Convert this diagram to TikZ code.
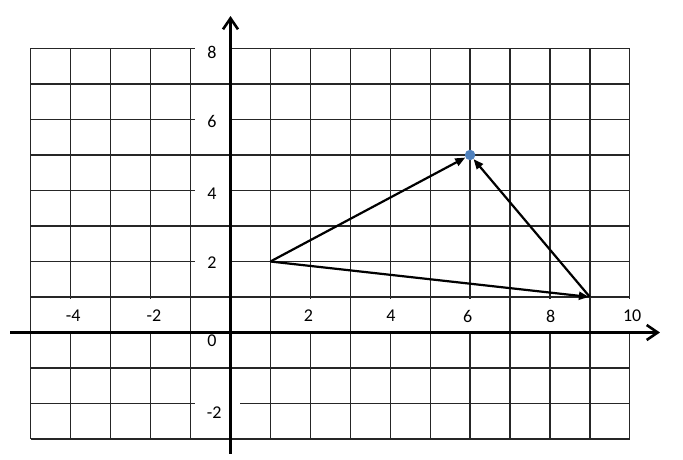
\documentclass[tikz,border=0pt]{standalone}
\usepackage{fontspec}
\setmainfont{Carlito}
\usetikzlibrary{arrows.meta}
\definecolor{dotblue}{RGB}{79,129,189}
\begin{document}
\begin{tikzpicture}[x=39.93pt,y=35.5pt,
  gridline/.style={line width=1.3pt, draw=black!85},
  axis/.style={line width=2.6pt, -{Straight Barb[length=11pt,width=15pt]}},
  vec/.style={line width=2.2pt, -{Triangle[length=10pt,width=8pt]}},
  lab/.style={fill=white, inner sep=0pt, font=\fontsize{18}{20}\selectfont, text=black},
  ylab/.style={lab, minimum width=34pt, minimum height=26pt},
  xlab/.style={lab, minimum width=30pt, minimum height=34pt},
  pt/.style={circle, fill=dotblue, minimum size=10.5pt, inner sep=0pt}
]
\useasboundingbox (-230.5pt,-127.5pt) rectangle (452.5pt,332.5pt);
% grid
\draw[gridline, xstep=39.93pt, ystep=35.5pt] (-5,-3) grid (10,8);
% y labels
\node[ylab] (y8) at (-0.463,7.90) {8};
\node[ylab] (y6) at (-0.463,5.93) {6};
\node[ylab] (y4) at (-0.463,3.90) {4};
\node[ylab] (y2) at (-0.463,1.96) {2};
\node[ylab] (y0) at (-0.463,-0.24) {0};
\node[lab, minimum height=26pt, text width=21.6pt, align=left, inner xsep=11.7pt, anchor=west] (ym2) at (-0.889,-2.27) {-2};
% x labels
\node[xlab] (xm4) at (-3.94,0.465) {-4};
\node[xlab] (xm2) at (-1.92,0.465) {-2};
\node[xlab] (x2) at (1.95,0.465) {2};
\node[xlab] (x4) at (4.02,0.465) {4};
\node[xlab] (x6) at (5.94,0.465) {6};
\node[xlab] (x8) at (8.02,0.465) {8};
\node[xlab] (x10) at (10.06,0.465) {10};
% axes
\coordinate (xs) at (-5.52,0);
\coordinate (xe) at (10.756,0);
\coordinate (ys) at (0,-3.42);
\coordinate (ye) at (0,8.915);
\draw[axis] (xs) -- (xe);
\draw[axis] (ys) -- (ye);
% triangle
\coordinate (A) at (1,2);
\coordinate (B) at (9,1);
\node[pt] (P) at (6,5) {};
\draw[vec] (A) -- (P);
\draw[vec, shorten >=1pt] (A) -- (B);
\draw[vec] (B) -- (P);
\end{tikzpicture}
\end{document}
